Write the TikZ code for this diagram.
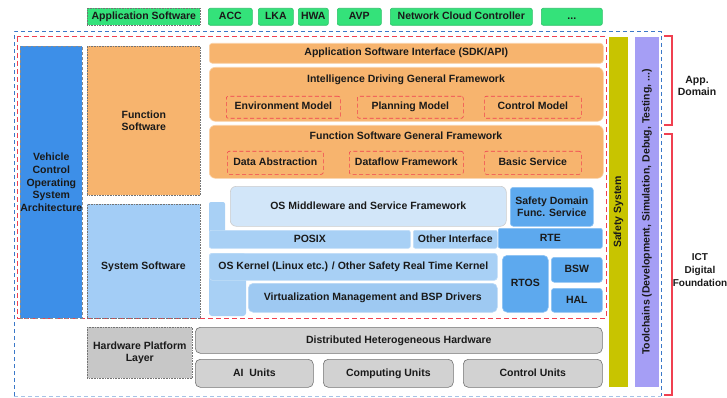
\documentclass[tikz,border=0pt]{standalone}
\usepackage{fontspec}
\setmainfont{Liberation Sans}
\definecolor{appgreen}{RGB}{52,226,122}
\definecolor{fworange}{RGB}{247,180,110}
\definecolor{vehblue}{RGB}{61,143,232}
\definecolor{sysblue}{RGB}{163,205,246}
\definecolor{midblue}{RGB}{93,169,238}
\definecolor{paleblue}{RGB}{210,230,249}
\definecolor{lblue}{RGB}{168,208,245}
\definecolor{virtblue}{RGB}{158,201,242}
\definecolor{hwgray}{RGB}{210,210,210}
\definecolor{safetyolive}{RGB}{200,196,0}
\definecolor{toollilac}{RGB}{165,158,245}
\definecolor{reddash}{RGB}{240,64,80}
\definecolor{bluedash}{RGB}{58,120,200}
\definecolor{inkgray}{RGB}{26,26,26}
\tikzset{every picture/.style={line width=0.75pt}}
\tikzset{
  lbl/.style={font=\bfseries\fontsize{10.5}{12.8}\selectfont, text=inkgray, align=center, inner sep=0pt},
  oneline/.style={text height=7.6pt, text depth=2.2pt},
  multiline/.style={text height={}, text depth={}},
  blk/.style={lbl, oneline, anchor=north west, rounded corners=3pt, line width=0.6pt},
  greenbox/.style={blk, fill=appgreen, draw=appgreen!85!black, rounded corners=2pt},
  orangebox/.style={blk, fill=fworange, draw=fworange!60!white},
  reddashbox/.style={blk, draw=reddash, dashed, dash pattern=on 4pt off 2.5pt, rounded corners=2pt},
  bluebox/.style={blk, fill=#1, draw=#1!70!white},
  graybox/.style={blk, fill=hwgray, draw=black!55},
  dotbox/.style={blk, rounded corners=0pt, draw=black!55, densely dotted},
  column/.style={lbl, oneline, rotate=90, minimum width=350pt},
  reddashed/.style={reddash, dashed, dash pattern=on 5pt off 3pt, line width=1pt},
}
\begin{document}
\begin{tikzpicture}[x=1pt,y=1pt,yscale=-1,xscale=1]
\useasboundingbox (0,0) rectangle (727,398);

% top row of applications
\node[greenbox, dotbox, fill=appgreen, minimum width=113pt, minimum height=17pt] (appsw) at (87,8) {Application Software};
\node[greenbox, minimum width=44pt, minimum height=17pt] (acc) at (208,8) {ACC};
\node[greenbox, minimum width=35pt, minimum height=17pt] (lka) at (258,8) {LKA};
\node[greenbox, minimum width=30pt, minimum height=17pt] (hwa) at (298,8) {HWA};
\node[greenbox, minimum width=44pt, minimum height=17pt] (avp) at (337,8) {AVP};
\node[greenbox, minimum width=142pt, minimum height=17pt] (ncc) at (390,8) {Network Cloud Controller};
\node[greenbox, minimum width=61pt, minimum height=17pt] (more) at (541,8) {...};

% dashed frames
\draw[bluedash, dashed, dash pattern=on 4pt off 3pt, line width=1pt] (14,396) -- (14,32) -- (661,32) -- (661,396);
\draw[bluedash!45, dashed, dash pattern=on 4pt off 3pt, line width=1pt] (14,396) -- (661,396);
\draw[reddashed] (17,37) rectangle (606,318);

% left columns
\node[blk, rounded corners=0pt, fill=vehblue, draw=black!45, densely dashed, minimum width=62pt, minimum height=272pt] (veh) at (20,46) {};
\node[lbl] (vehlbl) at (veh.center) {Vehicle\\Control\\Operating\\System\\Architecture};
\node[dotbox, multiline, fill=fworange, minimum width=113pt, minimum height=149pt] (funcsw) at (87,46) {Function\\Software};
\node[dotbox, fill=sysblue, minimum width=113pt, minimum height=114pt] (syssw) at (87,204) {};
\node[lbl, oneline] (sysswlbl) at (143.5,267) {System Software};

% function software
\node[orangebox, minimum width=394pt, minimum height=20pt] (asi) at (209,43) {Application Software Interface (SDK/API)};
\node[orangebox, rounded corners=6pt, minimum width=394pt, minimum height=54pt] (idgf) at (209,67) {};
\node[lbl, oneline] (idgflbl) at (406,80) {Intelligence Driving General Framework};
\node[reddashbox, minimum width=114pt, minimum height=22pt] (env) at (226,96) {Environment Model};
\node[reddashbox, minimum width=106pt, minimum height=22pt] (plan) at (357,96) {Planning Model};
\node[reddashbox, minimum width=97pt, minimum height=22pt] (ctrl) at (484,96) {Control Model};
\node[orangebox, rounded corners=6pt, minimum width=394pt, minimum height=53pt] (fsgf) at (209,125) {};
\node[lbl, oneline] (fsgflbl) at (406,137) {Function Software General Framework};
\node[reddashbox, minimum width=96pt, minimum height=23pt] (data) at (227,151) {Data Abstraction};
\node[reddashbox, minimum width=114pt, minimum height=23pt] (flow) at (349,151) {Dataflow Framework};
\node[reddashbox, minimum width=97pt, minimum height=23pt] (basic) at (484,151) {Basic Service};

% system software
\fill[lblue, rounded corners=2pt] (209,202) rectangle (225,248);
\node[bluebox=lblue, rounded corners=2pt, minimum width=201pt, minimum height=18pt] (posix) at (209,230) {POSIX};
\node[bluebox=paleblue, rounded corners=6pt, draw=white!80!black, minimum width=276pt, minimum height=40pt] (osmw) at (230,186) {OS Middleware and Service Framework};
\node[bluebox=midblue, multiline, minimum width=83pt, minimum height=39pt] (sdfs) at (510,187) {Safety Domain\\Func. Service};
\node[bluebox=lblue, rounded corners=2pt, minimum width=84pt, minimum height=18pt] (other) at (413,230) {Other Interface};
\node[bluebox=midblue, rounded corners=2pt, minimum width=104pt, minimum height=20pt] (rte) at (498,228) {RTE};
\fill[lblue, rounded corners=3pt] (209,253) rectangle (246,316);
\node[bluebox=lblue, minimum width=288pt, minimum height=27pt] (kernel) at (209,253) {OS Kernel (Linux etc.) / Other Safety Real Time Kernel};
\node[bluebox=virtblue, rounded corners=5pt, minimum width=249pt, minimum height=29pt] (virt) at (248,283) {Virtualization Management and BSP Drivers};
\node[bluebox=midblue, rounded corners=5pt, minimum width=46pt, minimum height=57pt] (rtos) at (502,255) {RTOS};
\node[bluebox=midblue, minimum width=51pt, minimum height=25pt] (bsw) at (551,257) {BSW};
\node[bluebox=midblue, minimum width=51pt, minimum height=24pt] (hal) at (551,288) {HAL};

% hardware
\node[dotbox, multiline, fill=hwgray!95!black, minimum width=105pt, minimum height=51pt] (hpl) at (87,327) {Hardware Platform\\Layer};
\node[graybox, rounded corners=5pt, minimum width=407pt, minimum height=26pt] (dhh) at (195,327) {Distributed Heterogeneous Hardware};
\node[graybox, rounded corners=5pt, minimum width=118pt, minimum height=28pt] (ai) at (195,359) {AI~~Units};
\node[graybox, rounded corners=5pt, minimum width=130pt, minimum height=28pt] (comp) at (323,359) {Computing Units};
\node[graybox, rounded corners=5pt, minimum width=139pt, minimum height=28pt] (ctrlu) at (463,359) {Control Units};

% side columns
\node[column, fill=safetyolive, minimum height=19pt] (safety) at (618.5,212) {Safety System};
\node[column, fill=toollilac, minimum height=24pt] (tool) at (647,212) {Toolchains (Development, Simulation, Debug, Testing, ...)};

% domain brackets
\draw[reddash, line width=1.2pt] (664,36) -| (672,125) -- (664,125);
\draw[reddash, line width=1.2pt] (664,134) -| (672,395) -- (664,395);
\node[lbl] (appdom) at (697,86) {App.\\Domain};
\node[lbl, font=\bfseries\fontsize{10}{12.8}\selectfont] (ictdom) at (700,270) {ICT\\Digital\\Foundation};

\end{tikzpicture}
\end{document}
